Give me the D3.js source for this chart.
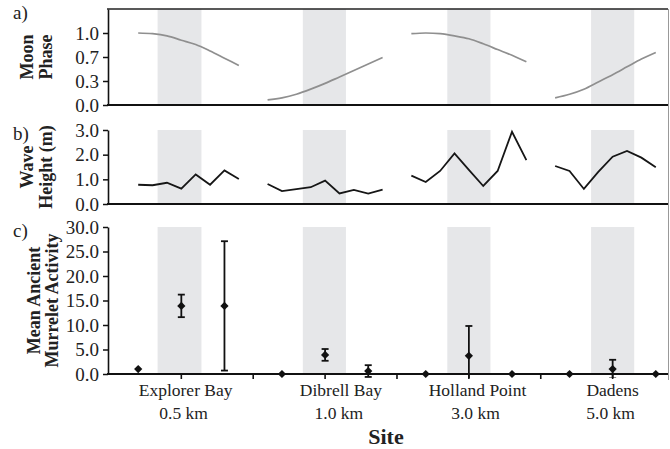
<!DOCTYPE html>
<html>
<head>
<meta charset="utf-8">
<script src="https://cdn.jsdelivr.net/npm/d3@7"></script>
<style>
  body { margin: 0; background: #fff; }
  svg { display: block; font-family: 'Liberation Serif', 'Times New Roman', serif; }
</style>
</head>
<body>
<svg id="chart" width="670" height="449"></svg>
<script>
// sites (4 locations, 10 days apart on the day axis)
var sites = ['Explorer Bay', 'Dibrell Bay', 'Holland Point', 'Dadens'];
var distances = ['0.5 km', '1.0 km', '3.0 km', '5.0 km'];
var labelDays = [3.3, 14.1, 23.6, 33];

// shaded periods (day ranges)
var shadeStart = [1.35, 11.45, 21.5, 31.5];
var shadeEnd = [4.4, 14.45, 24.5, 34.5];

// daily series per site
var seriesDays = [
	[0, 1, 2, 3, 4, 5, 6, 7],
	[9, 10, 11, 12, 13, 14, 15, 16, 17],
	[19, 20, 21, 22, 23, 24, 25, 26, 27],
	[29, 30, 31, 32, 33, 34, 35, 36]
];
var moonPhase = [
	[1.00, 0.99, 0.96, 0.90, 0.84, 0.75, 0.65, 0.55],
	[0.07, 0.10, 0.15, 0.22, 0.30, 0.39, 0.48, 0.57, 0.66],
	[0.99, 1.00, 0.99, 0.96, 0.92, 0.85, 0.77, 0.69, 0.60],
	[0.10, 0.15, 0.22, 0.32, 0.42, 0.53, 0.64, 0.73]
];
var waveHeight = [
	[0.78, 0.76, 0.86, 0.62, 1.20, 0.78, 1.36, 1.01],
	[0.81, 0.52, 0.60, 0.68, 0.95, 0.43, 0.57, 0.42, 0.58],
	[1.15, 0.89, 1.34, 2.05, 1.38, 0.73, 1.34, 2.93, 1.78],
	[1.54, 1.34, 0.61, 1.30, 1.92, 2.15, 1.88, 1.49]
];

// murrelet activity: before / during / after per site
var activityDays = [
	[0, 3, 6],
	[10, 13, 16],
	[20, 23, 26],
	[30, 33, 36]
];
var activityMean = [
	[1.0, 13.9, 13.9],
	[0.0, 3.9, 0.6],
	[0.0, 3.7, 0.0],
	[0.0, 1.0, 0.0]
];
var activityErr = [
	[0, 2.3, 13.2],
	[0, 1.2, 1.2],
	[0, 6.1, 0],
	[0, 1.9, 0]
];

var moonTicks = [0, 1 / 3, 2 / 3, 1];
var waveTicks = [0, 1, 2, 3];
var activityTicks = [0, 5, 10, 15, 20, 25, 30];
var xTicks = [3, 8, 13, 18, 23, 28, 33];

var svg = d3.select('#chart');
var left = 108, right = 668;

var x = d3.scaleLinear().domain([-2.1, 36.85]).range([left, right]);

var panels = [
	{label: 'a)', title: ['Moon', 'Phase'], top: 9, bottom: 105, domain: [0, 4 / 3], ticks: moonTicks},
	{label: 'b)', title: ['Wave', 'Height (m)'], top: 130, bottom: 204, domain: [0, 3], ticks: waveTicks},
	{label: 'c)', title: ['Mean Ancient', 'Murrelet Activity'], top: 227, bottom: 374, domain: [0, 30], ticks: activityTicks}
];

panels.forEach(function(p) {
	p.y = d3.scaleLinear().domain(p.domain).range([p.bottom, p.top]);
	var g = svg.append('g');

	// shaded bands
	g.selectAll('rect.shade')
		.data(shadeStart)
		.enter()
		.append('rect')
		.attr('class', 'shade')
		.attr('x', function(d) { return x(d); })
		.attr('y', p.top)
		.attr('width', function(d, i) { return x(shadeEnd[i]) - x(d); })
		.attr('height', p.bottom - p.top)
		.style('fill', '#e6e7e9');

	// y axis
	var yAxis = g.append('g')
		.attr('transform', 'translate(' + left + ',0)')
		.call(d3.axisLeft(p.y).tickValues(p.ticks).tickFormat(d3.format('.1f')).tickSize(5).tickSizeOuter(0));
	yAxis.select('.domain').attr('stroke', '#111').attr('stroke-width', 1.6);
	yAxis.selectAll('.tick line').attr('stroke', '#111').attr('stroke-width', 1.5);
	yAxis.selectAll('.tick text')
		.attr('x', -9)
		.style('font-family', "'Liberation Serif', serif")
		.style('font-size', '19px')
		.style('fill', '#222');

	// bottom line
	g.append('line')
		.attr('x1', left - 1).attr('x2', right)
		.attr('y1', p.bottom).attr('y2', p.bottom)
		.attr('stroke', '#111').attr('stroke-width', 2.2);

	// panel letter
	g.append('text')
		.attr('x', 13)
		.attr('y', p.top + 10)
		.style('font-size', '19px')
		.style('fill', '#222')
		.text(p.label);

	// rotated title
	var cy = (p.top + p.bottom) / 2;
	var tx = p.label == 'c)' ? [34, 52] : [27, 46];
	p.title.forEach(function(t, i) {
		g.append('text')
			.attr('transform', 'translate(' + (tx[i] + 6) + ',' + cy + ') rotate(-90)')
			.attr('text-anchor', 'middle')
			.style('font-size', '18px')
			.style('font-weight', 'bold')
			.style('fill', '#222')
			.text(t);
	});
});

// top border of panel a and right frame
svg.append('line')
	.attr('x1', left - 1).attr('x2', right)
	.attr('y1', panels[0].top).attr('y2', panels[0].top)
	.attr('stroke', '#222').attr('stroke-width', 1.6);
svg.append('line')
	.attr('x1', right + 0.5).attr('x2', right + 0.5)
	.attr('y1', panels[0].top).attr('y2', 380)
	.attr('stroke', '#999').attr('stroke-width', 1);

// moon phase lines
var moonLine = d3.line()
	.x(function(d) { return x(d[0]); })
	.y(function(d) { return panels[0].y(d[1]); })
	.curve(d3.curveMonotoneX);
svg.append('g').selectAll('path')
	.data(seriesDays.map(function(days, i) { return days.map(function(d, j) { return [d, moonPhase[i][j]]; }); }))
	.enter()
	.append('path')
	.attr('d', moonLine)
	.attr('fill', 'none')
	.attr('stroke', '#8f8f8f')
	.attr('stroke-width', 1.7);

// wave height lines
var waveLine = d3.line()
	.x(function(d) { return x(d[0]); })
	.y(function(d) { return panels[1].y(d[1]); });
svg.append('g').selectAll('path')
	.data(seriesDays.map(function(days, i) { return days.map(function(d, j) { return [d, waveHeight[i][j]]; }); }))
	.enter()
	.append('path')
	.attr('d', waveLine)
	.attr('fill', 'none')
	.attr('stroke', '#161616')
	.attr('stroke-width', 1.8)
	.attr('stroke-linejoin', 'miter');

// x ticks for panel c
var yc = panels[2].y;
svg.append('g').selectAll('line')
	.data(xTicks)
	.enter()
	.append('line')
	.attr('x1', function(d) { return x(d); })
	.attr('x2', function(d) { return x(d); })
	.attr('y1', panels[2].bottom)
	.attr('y2', panels[2].bottom + 5)
	.attr('stroke', '#111').attr('stroke-width', 1.6);

// activity points with error bars
var pts = [];
activityDays.forEach(function(days, i) {
	days.forEach(function(d, j) {
		pts.push({day: d, mean: activityMean[i][j], err: activityErr[i][j]});
	});
});

svg.append('clipPath').attr('id', 'clipc')
	.append('rect')
	.attr('x', left).attr('y', panels[2].top - 5)
	.attr('width', right - left + 5).attr('height', panels[2].bottom - panels[2].top + 9);

var eb = svg.append('g').attr('clip-path', 'url(#clipc)');
var bars = pts.filter(function(d) { return d.err > 0; });
eb.selectAll('line.bar')
	.data(bars)
	.enter()
	.append('line')
	.attr('x1', function(d) { return x(d.day); })
	.attr('x2', function(d) { return x(d.day); })
	.attr('y1', function(d) { return yc(d.mean + d.err); })
	.attr('y2', function(d) { return yc(d.mean - d.err); })
	.attr('stroke', '#111').attr('stroke-width', 1.8);
eb.selectAll('line.capTop')
	.data(bars)
	.enter()
	.append('line')
	.attr('x1', function(d) { return x(d.day) - 3.5; })
	.attr('x2', function(d) { return x(d.day) + 3.5; })
	.attr('y1', function(d) { return yc(d.mean + d.err); })
	.attr('y2', function(d) { return yc(d.mean + d.err); })
	.attr('stroke', '#111').attr('stroke-width', 1.8);
eb.selectAll('line.capBot')
	.data(bars)
	.enter()
	.append('line')
	.attr('x1', function(d) { return x(d.day) - 3.5; })
	.attr('x2', function(d) { return x(d.day) + 3.5; })
	.attr('y1', function(d) { return yc(d.mean - d.err); })
	.attr('y2', function(d) { return yc(d.mean - d.err); })
	.attr('stroke', '#111').attr('stroke-width', 1.8);

svg.append('g').selectAll('path')
	.data(pts)
	.enter()
	.append('path')
	.attr('d', d3.symbol(d3.symbolSquare, 34))
	.attr('transform', function(d) { return 'translate(' + x(d.day) + ',' + yc(d.mean) + ') rotate(45)'; })
	.style('fill', '#111');

// site labels
var lab = svg.append('g').attr('text-anchor', 'middle').style('font-size', '17.5px').style('fill', '#222');
lab.selectAll('text.site')
	.data(sites)
	.enter()
	.append('text')
	.attr('x', function(d, i) { return x(labelDays[i]); })
	.attr('y', 396)
	.text(function(d) { return d; });
lab.selectAll('text.dist')
	.data(distances)
	.enter()
	.append('text')
	.attr('x', function(d, i) { return x(labelDays[i]) - 2; })
	.attr('y', 419)
	.text(function(d) { return d; });

svg.append('text')
	.attr('x', 386)
	.attr('y', 444)
	.attr('text-anchor', 'middle')
	.style('font-size', '22px')
	.style('font-weight', 'bold')
	.style('fill', '#222')
	.text('Site');
</script>
</body>
</html>
